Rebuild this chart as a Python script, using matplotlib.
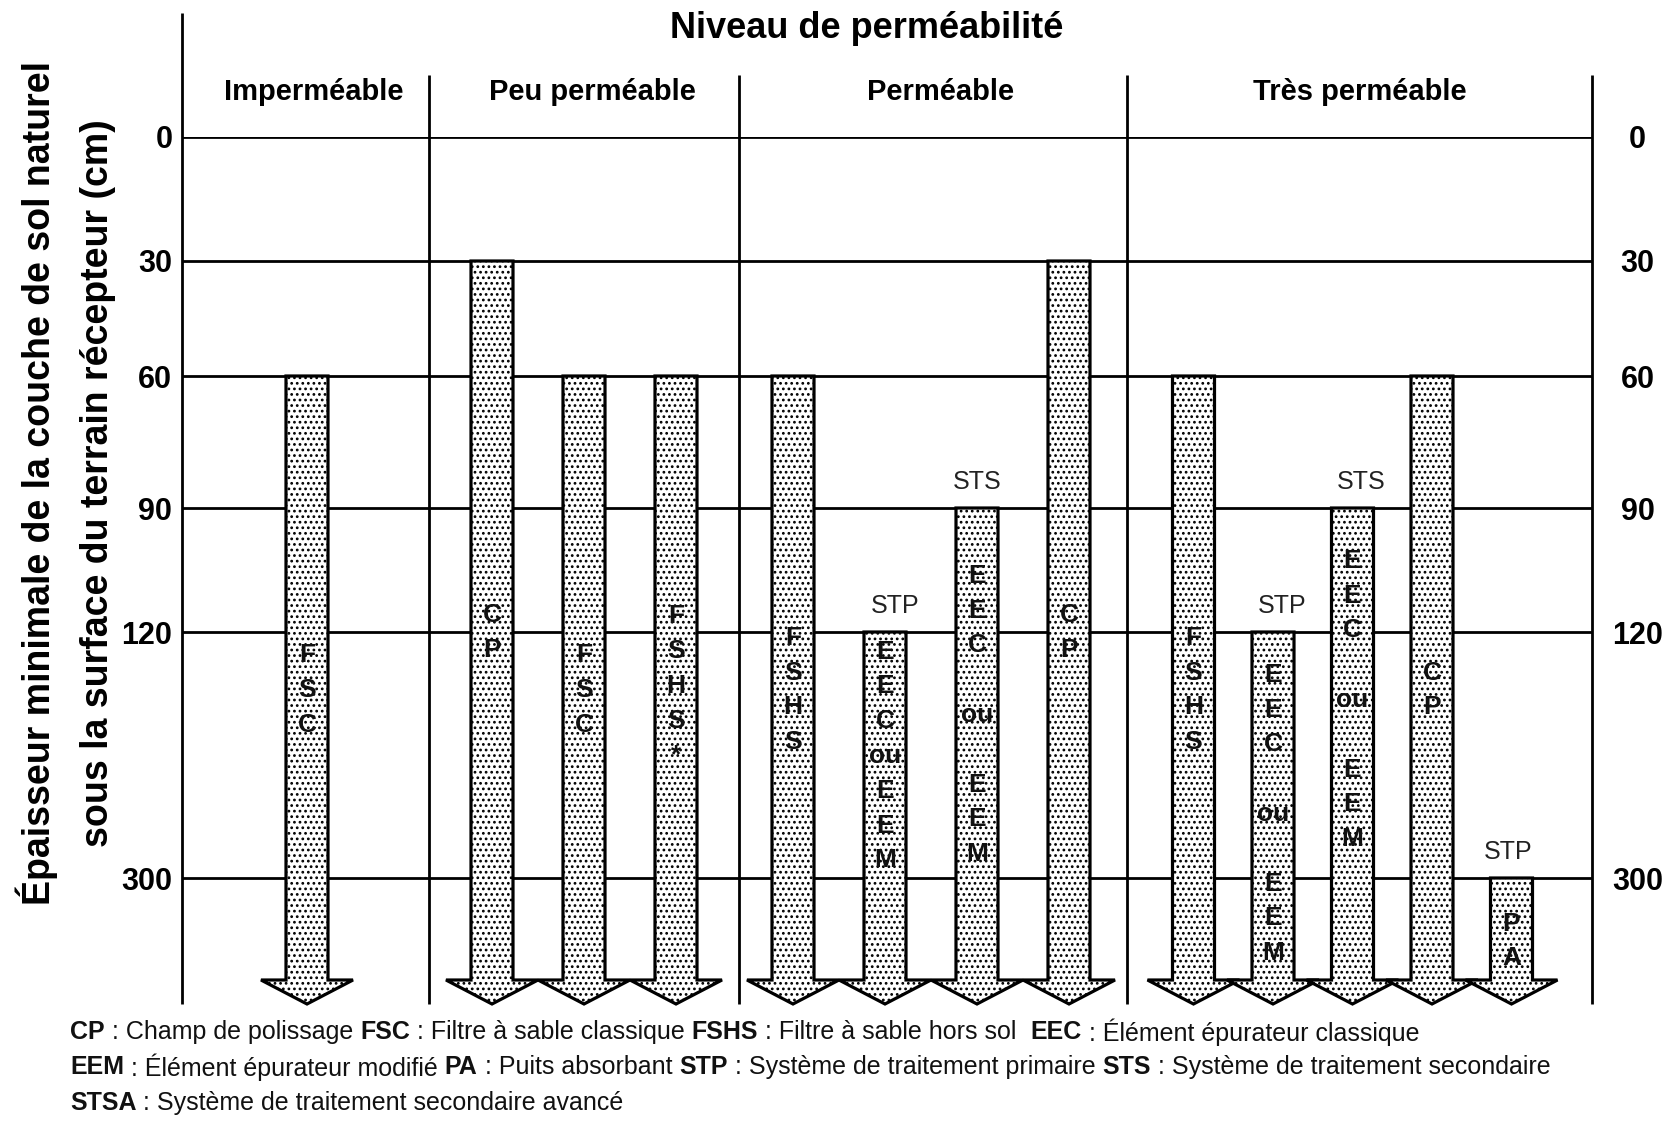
import numpy as np
import matplotlib
matplotlib.use("Agg")
import matplotlib.pyplot as plt
import matplotlib.transforms as mtransforms
from matplotlib.patches import Polygon
from matplotlib import font_manager as fm

# ---------------- data ----------------
title = "Niveau de perméabilité"
categories = ["Imperméable", "Peu perméable", "Perméable", "Très perméable"]
depth_ticks = [0, 30, 60, 90, 120, 300]
depth_tick_labels = ["0", "30", "60", "90", "120", "300"]
arrow_category = [0, 1, 1, 1, 2, 2, 2, 2, 3, 3, 3, 3, 3]
arrow_start = [60, 30, 60, 60, 60, 120, 90, 30, 60, 120, 90, 60, 300]
arrow_label = ["FSC", "CP", "FSC", "FSHS*", "FSHS", "EEC|ou|EEM", "EEC||ou||EEM",
               "CP", "FSHS", "EEC||ou||EEM", "EEC||ou||EEM", "CP", "PA"]
arrow_system = ["", "", "", "", "", "STP", "STS", "", "", "STP", "STS", "", "STP"]
ylabel_lines = ["Épaisseur minimale de la couche de sol naturel",
                "sous la surface du terrain récepteur (cm)"]
legend_lines = [
    [("CP", True), (" : Champ de polissage ", False), ("FSC", True),
     (" : Filtre à sable classique ", False), ("FSHS", True),
     (" : Filtre à sable hors sol  ", False), ("EEC", True),
     (" : Élément épurateur classique", False)],
    [("EEM", True), (" : Élément épurateur modifié ", False), ("PA", True),
     (" : Puits absorbant ", False), ("STP", True),
     (" : Système de traitement primaire ", False), ("STS", True),
     (" : Système de traitement secondaire", False)],
    [("STSA", True), (" : Système de traitement secondaire avancé", False)],
]

# ---------------- layout / style ----------------
W, H = 1675, 1121
names = {f.name for f in fm.fontManager.ttflist}
NARROW = "Liberation Sans Narrow" if "Liberation Sans Narrow" in names else "Liberation Sans"
REG = "Liberation Sans"

BOTTOM = 400  # sentinel depth for arrow tips (below 300 cm)
KD = np.array([0, 30, 60, 90, 120, 300, BOTTOM], float)
KR = np.array([137, 261, 376, 508, 632, 878, 1004], float)


def _pl(x, xs, ys):
    x = np.asarray(x, float)
    r = np.interp(x, xs, ys)
    r = np.where(x < xs[0], ys[0] + (x - xs[0]) * (ys[1] - ys[0]) / (xs[1] - xs[0]), r)
    r = np.where(x > xs[-1], ys[-1] + (x - xs[-1]) * (ys[-1] - ys[-2]) / (xs[-1] - xs[-2]), r)
    return r


def fwd(d):
    return _pl(d, KD, KR)


def inv(v):
    return _pl(v, KR, KD)


def row(px):
    return float(inv(px))


def px_of(d):
    return float(fwd(d))


col_edges = [182, 429, 739, 1127, 1592]
col_spacing = [0, 92, 92, 79.5]
col_shift = [1.5, 0, -2, -7]
SHAFT, HEAD, HEADLEN = 21, 46, 24
label_shift = {3: -4, 5: -62, 6: -41, 9: -4, 10: -56}
sys_dx = {5: 10, 6: 0, 9: 9, 10: 9, 12: -3}

fig = plt.figure(figsize=(W / 100, H / 100), dpi=100)
fig.patch.set_facecolor("white")
ax = fig.add_axes([182 / W, 1 - 1004 / H, (1592 - 182) / W, (1004 - 137) / H])
ax.set_yscale("function", functions=(fwd, inv))
ax.set_xlim(182, 1592)
ax.set_ylim(BOTTOM, 0)
for s in ax.spines.values():
    s.set_visible(False)
ax.set_xticks([])
ax.set_yticks(depth_ticks)
ax.set_yticklabels(depth_tick_labels)
ax.tick_params(axis="y", length=0, pad=7, labelsize=22, labelright=True)
for t in ax.yaxis.get_major_ticks():
    for lab in (t.label1, t.label2):
        lab.set_fontfamily(NARROW)
        lab.set_fontweight("bold")
        lab.set_fontsize(22)
    t.label2.set_horizontalalignment("center")
    t.label2.set_transform(t.label2.get_transform() +
                           mtransforms.ScaledTranslation(36 / 100, 0, fig.dpi_scale_trans))

LW = 2.0
# horizontal grid lines
ax.hlines(depth_ticks, 182, 1592, color="black", lw=LW, zorder=1)
# vertical lines
ax.plot([182, 182], [row(13), BOTTOM], color="black", lw=LW, clip_on=False, zorder=1,
        solid_capstyle="butt")
for xe in col_edges[1:]:
    ax.plot([xe, xe], [row(75), BOTTOM], color="black", lw=LW, clip_on=False, zorder=1,
            solid_capstyle="butt")

plt.rcParams["hatch.linewidth"] = 1.2
shoulder = row(px_of(BOTTOM) - HEADLEN)
counts = [arrow_category.count(c) for c in range(len(categories))]
idx_in_col = []
seen = [0] * len(categories)
for c in arrow_category:
    idx_in_col.append(seen[c])
    seen[c] += 1

for i, (c, start, lab, sysl) in enumerate(zip(arrow_category, arrow_start, arrow_label, arrow_system)):
    cc = (col_edges[c] + col_edges[c + 1]) / 2 + col_shift[c]
    x = cc + (idx_in_col[i] - (counts[c] - 1) / 2) * col_spacing[c]
    verts = [(x - SHAFT, start), (x + SHAFT, start), (x + SHAFT, shoulder), (x + HEAD, shoulder),
             (x, BOTTOM), (x - HEAD, shoulder), (x - SHAFT, shoulder)]
    ax.add_patch(Polygon(verts, closed=True, facecolor="white", edgecolor="black",
                         lw=2.3, hatch="...", zorder=3 + i * 0.01, clip_on=False,
                         joinstyle="miter"))
    lines = []
    for g in lab.split("|"):
        if g == "ou":
            lines.append("ou")
        elif g == "":
            lines.append(" ")
        else:
            lines.extend(list(g))
    cpx = (px_of(start) + px_of(BOTTOM)) / 2 + label_shift.get(i, 0)
    ax.text(x, row(cpx), "\n".join(lines), ha="center", va="center", fontsize=19,
            fontfamily=NARROW, fontweight="bold", linespacing=1.57, zorder=5, color="#111111")
    if sysl:
        ax.text(x + sys_dx.get(i, 5), row(px_of(start) - 26), sysl, ha="center", va="center",
                fontsize=18, fontfamily=REG, zorder=5, color="#222222")

# titles
fig.text(867 / W, 1 - 28 / H, title, ha="center", va="center", fontsize=26,
         fontfamily=NARROW, fontweight="bold")
for c, name in enumerate(categories):
    cc = (col_edges[c] + col_edges[c + 1]) / 2 + (8 if c < 3 else 0)
    fig.text(cc / W, 1 - 92 / H, name, ha="center", va="center", fontsize=21,
             fontfamily=NARROW, fontweight="bold")

for xl, txt in zip([37, 98], ylabel_lines):
    fig.text(xl / W, 1 - 483 / H, txt, rotation=90, ha="center", va="center",
             fontsize=27, fontfamily=NARROW, fontweight="bold")

# legend
for ry, parts in zip([1032, 1067, 1103], legend_lines):
    prev = None
    for txt, bold in parts:
        kw = dict(fontsize=18, fontfamily=NARROW, fontweight="bold" if bold else "normal",
                  color="#111111")
        if prev is None:
            prev = fig.text(70 / W, 1 - ry / H, txt, ha="left", va="center", **kw)
        else:
            prev = fig.add_artist(plt.Annotation(txt, xy=(1, 0.5), xycoords=prev,
                                                 ha="left", va="center", **kw))

fig.savefig("out.png", dpi=100, facecolor="white")
